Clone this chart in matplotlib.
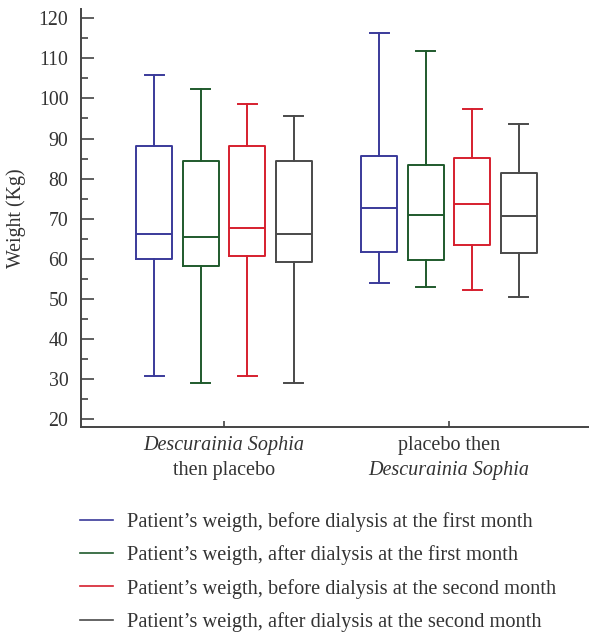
import matplotlib.pyplot as plt
from matplotlib.lines import Line2D

plt.rcParams['font.family'] = ['Liberation Serif', 'DejaVu Serif']

# box stats: (whislo, q1, med, q3, whishi)
groups = [1, 2]
series = ["Patient\u2019s weigth, before dialysis at the first month",
          "Patient\u2019s weigth, after dialysis at the first month",
          "Patient\u2019s weigth, before dialysis at the second month",
          "Patient\u2019s weigth, after dialysis at the second month"]
colors = ["#3a3a9a", "#1f5a2c", "#d61f2e", "#4a4a4a"]

ds_then_placebo = [
    (30.8, 59.9, 66.3, 88.1, 105.9),
    (29.1, 58.3, 65.4, 84.3, 102.4),
    (30.8, 60.6, 67.8, 88.1, 98.5),
    (29.1, 59.2, 66.1, 84.5, 95.5),
]
placebo_then_ds = [
    (53.9, 61.6, 72.8, 85.7, 116.3),
    (53.0, 59.8, 71.0, 83.5, 111.8),
    (52.2, 63.5, 73.7, 85.2, 97.4),
    (50.6, 61.4, 70.7, 81.3, 93.6),
]

fig = plt.figure(figsize=(5.89, 6.32), dpi=100)
ax = fig.add_axes([0.1375, 0.3244, 0.8625, 0.6614])

offsets = [-0.31, -0.103, 0.103, 0.31]
for g, data in zip(groups, [ds_then_placebo, placebo_then_ds]):
    for i, (lo, q1, med, q3, hi) in enumerate(data):
        st = [dict(whislo=lo, q1=q1, med=med, q3=q3, whishi=hi, fliers=[])]
        c = colors[i]
        ax.bxp(st, positions=[g + offsets[i]], widths=0.16, capwidths=0.085,
               showfliers=False, manage_ticks=False,
               boxprops=dict(color=c, lw=1.4),
               medianprops=dict(color=c, lw=1.4),
               whiskerprops=dict(color=c, lw=1.4),
               capprops=dict(color=c, lw=1.4))

ax.set_xlim(0.364, 2.622)
ax.set_ylim(18.1, 122.3)
ax.set_yticks(range(20, 121, 10))
ax.set_yticks(range(25, 121, 10), minor=True)
ax.set_xticks(groups)
ax.set_xticklabels(["", ""])
for s in ["top", "right"]:
    ax.spines[s].set_visible(False)
for s in ["left", "bottom"]:
    ax.spines[s].set_color("#444444")
    ax.spines[s].set_linewidth(1.4)
ax.tick_params(axis="y", which="major", direction="in", length=9, width=1.2,
               color="#444444", labelsize=14.3, pad=9, labelcolor="#333333")
ax.tick_params(axis="y", which="minor", direction="in", length=5, width=1.2,
               color="#444444")
ax.tick_params(axis="x", direction="in", length=4, width=1.2, color="#444444")
ax.set_ylabel("Weight (Kg)", fontsize=14.3, color="#333333", labelpad=9)

tr = ax.get_xaxis_transform()
ax.text(1, -0.045, "Descurainia Sophia", style="italic", fontsize=14.5,
        ha="center", va="center", transform=tr, color="#333333")
ax.text(1, -0.105, "then placebo", fontsize=14.5,
        ha="center", va="center", transform=tr, color="#333333")
ax.text(2, -0.045, "placebo then", fontsize=14.5,
        ha="center", va="center", transform=tr, color="#333333")
ax.text(2, -0.105, "Descurainia Sophia", style="italic", fontsize=14.5,
        ha="center", va="center", transform=tr, color="#333333")

handles = [Line2D([], [], color=c, lw=1.2) for c in colors]
fig.legend(handles, series, loc="upper left", bbox_to_anchor=(0.136, 0.19),
           frameon=False, fontsize=14.7, handlelength=1.62, handletextpad=0.69,
           labelspacing=0.66, borderaxespad=0, borderpad=0,
           labelcolor="#333333")

fig.savefig("out.png", dpi=100)
